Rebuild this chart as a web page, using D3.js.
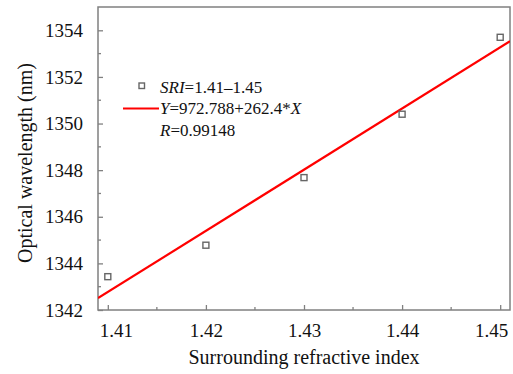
<!DOCTYPE html>
<html><head><meta charset="utf-8">
<script src="https://cdn.jsdelivr.net/npm/d3@7"></script>
<style>body{margin:0;background:#fff}svg{display:block}text{font-family:"Liberation Serif","Times New Roman",serif !important}</style>
</head><body>
<script>
const sri = [1.41, 1.42, 1.43, 1.44, 1.45];
const wavelength = [1343.43, 1344.78, 1347.68, 1350.40, 1353.70];
const fitIntercept = 972.788;
const fitSlope = 262.4;
const xTicks = [1.41, 1.42, 1.43, 1.44, 1.45];
const yTicks = [1342, 1344, 1346, 1348, 1350, 1352, 1354];
const legendLabels = ["SRI=1.41\u20131.45", "Y=972.788+262.4*X", "R=0.99148"];

const W = 513, H = 374;
const L = 98, R = 510, T = 7, B = 310;
const svg = d3.select("body").append("svg").attr("width", W).attr("height", H);
const x = d3.scaleLinear().domain([1.409, 1.451]).range([L, R]);
const y = d3.scaleLinear().domain([1342, 1355]).range([B, T]);
const axisColor = "#808080";

// frame
svg.append("rect").attr("x", L).attr("y", T).attr("width", R - L).attr("height", B - T)
  .attr("fill", "none").attr("stroke", axisColor).attr("stroke-width", 1.5);

// minor ticks
const xMinor = d3.range(1.415, 1.451, 0.01);
const yMinor = d3.range(1343, 1355, 2);
svg.append("g").selectAll("line").data(xMinor).join("line")
  .attr("x1", d => x(d)).attr("x2", d => x(d)).attr("y1", B).attr("y2", B - 3)
  .attr("stroke", axisColor).attr("stroke-width", 1.3);
svg.append("g").selectAll("line").data(yMinor).join("line")
  .attr("y1", d => y(d)).attr("y2", d => y(d)).attr("x1", L).attr("x2", L + 3)
  .attr("stroke", axisColor).attr("stroke-width", 1.3);

// x axis (ticks inward)
const xa = svg.append("g").attr("transform", `translate(0,${B})`)
  .call(d3.axisBottom(x).tickValues(xTicks).tickSizeInner(-5).tickSizeOuter(0).tickPadding(14).tickFormat(d3.format(".2f")));
xa.select(".domain").remove();
xa.selectAll("line").attr("stroke", axisColor).attr("stroke-width", 1.3);
xa.selectAll("text").attr("font-size", 19).attr("fill", "#111").attr("font-family", "Liberation Serif")
  .attr("dx", (d, i) => i === 0 ? 8 : (i === xTicks.length - 1 ? -9 : 0));

// y axis
const ya = svg.append("g").attr("transform", `translate(${L},0)`)
  .call(d3.axisLeft(y).tickValues(yTicks).tickSizeInner(-5).tickSizeOuter(0).tickPadding(15).tickFormat(d3.format("d")));
ya.select(".domain").remove();
ya.selectAll("line").attr("stroke", axisColor).attr("stroke-width", 1.3);
ya.selectAll("text").attr("font-size", 19).attr("fill", "#111").attr("font-family", "Liberation Serif");

// fit line
svg.append("clipPath").attr("id", "c").append("rect")
  .attr("x", L).attr("y", T).attr("width", R - L).attr("height", B - T);
const xd = x.domain();
svg.append("line").attr("clip-path", "url(#c)")
  .attr("x1", x(xd[0])).attr("y1", y(fitIntercept + fitSlope * xd[0]))
  .attr("x2", x(xd[1])).attr("y2", y(fitIntercept + fitSlope * xd[1]))
  .attr("stroke", "#ff0000").attr("stroke-width", 2.2);

// points
svg.append("g").selectAll("rect").data(sri).join("rect")
  .attr("x", (d) => x(d) - 3).attr("y", (d, i) => y(wavelength[i]) - 3)
  .attr("width", 6).attr("height", 6)
  .attr("fill", "#fff").attr("stroke", "#666").attr("stroke-width", 1.4);

// legend
const lg = svg.append("g").attr("font-size", 17).attr("fill", "#111");
lg.append("rect").attr("x", 139).attr("y", 83).attr("width", 5.5).attr("height", 5.5)
  .attr("fill", "#fff").attr("stroke", "#666").attr("stroke-width", 1.4);
lg.append("line").attr("x1", 123).attr("x2", 159).attr("y1", 108.5).attr("y2", 108.5)
  .attr("stroke", "#ff0000").attr("stroke-width", 2.2);
const parts = [
  [["SRI", true], ["=1.41\u20131.45", false]],
  [["Y", true], ["=972.788+262.4*", false], ["X", true]],
  [["R", true], ["=0.99148", false]]
];
parts.forEach((p, i) => {
  const t = lg.append("text").attr("x", 160).attr("y", 92.5 + i * 21.5);
  p.forEach(([s, it]) => t.append("tspan").attr("font-style", it ? "italic" : "normal").text(s));
  t.attr("data-label", legendLabels[i]);
});

// axis titles
svg.append("text").attr("x", 304).attr("y", 364).attr("text-anchor", "middle")
  .attr("font-size", 20).attr("fill", "#111").text("Surrounding refractive index");
svg.append("text").attr("transform", "translate(32,163) rotate(-90)").attr("text-anchor", "middle")
  .attr("font-size", 20).attr("fill", "#111").text("Optical wavelength (nm)");
</script>
</body></html>
